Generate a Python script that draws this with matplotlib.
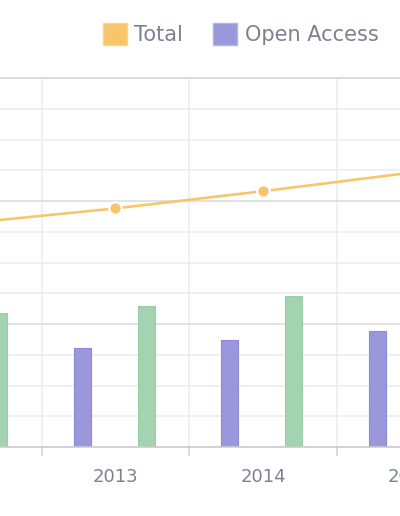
import matplotlib.pyplot as plt
from matplotlib.patches import Patch
from matplotlib.ticker import MultipleLocator, FixedLocator
import numpy as np

# values (axis units, the y tick labels are cropped out)
years = ['2012', '2013', '2014', '2015']
open_access = [2.9, 3.22, 3.48, 3.77]
other_access = [4.36, 4.59, 4.91, 5.2]
total = [1.82, 1.94, 2.08, 2.23]

yellow = '#f8c66a'
purple = '#9a97db'
green = '#a3d3b0'
grey_text = '#7b828e'

fig = plt.figure(figsize=(4, 5.16), dpi=100)
# the chart is cropped: the axes run past both edges of the picture
ax = fig.add_axes([-105.75 / 400, 0.1337, 590 / 400, 0.7151])
ax2 = ax.twinx()

x = np.arange(len(years))
ax.bar(x - 0.225, open_access, width=0.115, color=purple, edgecolor='#8c89d8', linewidth=0.8, zorder=2)
ax.bar(x + 0.21, other_access, width=0.115, color=green, edgecolor='#98cea6', linewidth=0.8, zorder=2)

ax2.plot(x, total, color=yellow, lw=1.9, marker='o', markersize=9,
         markerfacecolor=yellow, markeredgecolor='white', markeredgewidth=1.6)

# light grid every unit, darker every 4 (where the second axis lines fall)
ax.yaxis.set_minor_locator(MultipleLocator(1))
ax.yaxis.set_major_locator(MultipleLocator(4))
ax.grid(axis='y', which='minor', color='#ececec', lw=1.1)
ax.grid(axis='y', which='major', color='#dadada', lw=1.1)
ax.tick_params(axis='y', which='both', length=0, labelleft=False)
ax2.tick_params(axis='y', length=0, labelright=False)

ax.set_xticks(x)
ax.set_xticklabels(years)
ax.xaxis.set_minor_locator(FixedLocator(x + 0.5))
ax.grid(axis='x', which='minor', color='#ececec', lw=1.1)
ax.tick_params(axis='x', which='major', length=0, pad=15, labelsize=13, labelcolor=grey_text)
ax.tick_params(axis='x', which='minor', length=6.5, width=1.1, color='#cfcfcf', direction='out')
ax.set_axisbelow(True)

ax.set_xlim(-0.5, 3.5)
ax.set_ylim(0, 12)
ax2.set_ylim(0, 3)

for a in (ax, ax2):
    a.spines['left'].set_visible(False)
    a.spines['right'].set_visible(False)
ax2.spines['top'].set_visible(False)
ax2.spines['bottom'].set_visible(False)
ax.spines['top'].set_color('#d6d6d6')
ax.spines['top'].set_linewidth(1.2)
ax.spines['bottom'].set_color('#cccccc')
ax.spines['bottom'].set_linewidth(1.2)

handles = [Patch(facecolor=yellow, edgecolor='#fbd58f'), Patch(facecolor=purple, edgecolor='#b3b1e6')]
fig.legend(handles, ['Total', 'Open Access'], loc='center left',
           bbox_to_anchor=(103 / 400, 1 - 34 / 516), ncol=2, frameon=False,
           fontsize=15, labelcolor=grey_text, handlelength=1.15, handleheight=1.2,
           handletextpad=0.35, columnspacing=1.45, borderpad=0, borderaxespad=0)

fig.savefig('out.png', dpi=100)
